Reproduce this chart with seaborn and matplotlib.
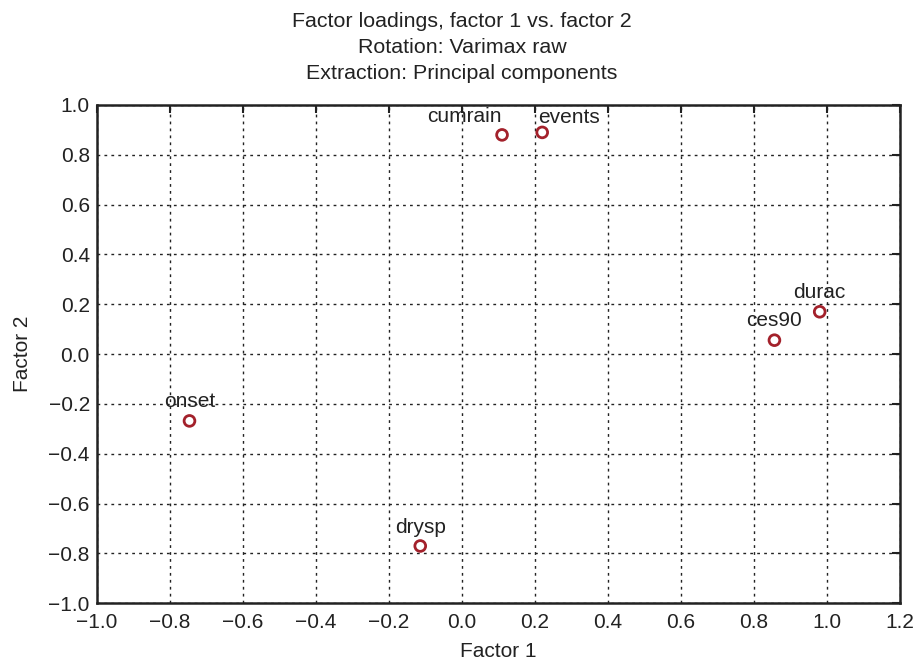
import matplotlib
matplotlib.use("Agg")
import matplotlib.pyplot as plt
import seaborn as sns
import pandas as pd

# Varimax-rotated principal component loadings
variables = ["cumrain", "events", "durac", "ces90", "onset", "drysp"]
factor1 = [0.11, 0.22, 0.98, 0.856, -0.746, -0.114]
factor2 = [0.88, 0.89, 0.17, 0.056, -0.268, -0.77]
# label offsets in points (dx, dy) relative to each point, to the text baseline
label_dx = [-27, 19.5, 0, 0, 0, 0]
label_dy = [9, 7, 10, 10, 10, 9]

xticks = [-1.0, -0.8, -0.6, -0.4, -0.2, 0.0, 0.2, 0.4, 0.6, 0.8, 1.0, 1.2]
yticks = [-1.0, -0.8, -0.6, -0.4, -0.2, 0.0, 0.2, 0.4, 0.6, 0.8, 1.0]

df = pd.DataFrame({"var": variables, "f1": factor1, "f2": factor2})

sns.set_theme(style="white")
plt.rcParams["font.family"] = ["Liberation Sans", "DejaVu Sans"]

fig = plt.figure(figsize=(9.17, 6.62), dpi=100)
ax = fig.add_axes([0.1055, 0.0887, 0.876, 0.7527])

sns.scatterplot(data=df, x="f1", y="f2", ax=ax, marker="o", s=60,
                facecolor="none", edgecolor="#a3212b", linewidth=2.0, zorder=3)

for name, x, y, dx, dy in zip(variables, factor1, factor2, label_dx, label_dy):
    ax.annotate(name, (x, y), xytext=(dx, dy), textcoords="offset points",
                ha="center", va="baseline", fontsize=15, color="#222222")

ax.set_xlim(-1.0, 1.2)
ax.set_ylim(-1.0, 1.0)
ax.set_xticks(xticks)
ax.set_yticks(yticks)
ax.set_xticklabels([f"{t:.1f}".replace("-", "\u2212") for t in xticks])
ax.set_yticklabels([f"{t:.1f}".replace("-", "\u2212") for t in yticks])
ax.grid(True, color="#222222", linestyle=(0, (2, 3)), linewidth=1.0)
ax.tick_params(direction="in", length=6, width=1.5, labelsize=15,
               top=True, right=True, colors="#222222", pad=5)
ax.tick_params(axis="x", pad=7)
for s in ax.spines.values():
    s.set_color("#222222")
    s.set_linewidth(1.8)

ax.set_xlabel("Factor 1", fontsize=15, color="#222222", labelpad=7)
ax.set_ylabel("Factor 2", fontsize=15, color="#222222", labelpad=12)

fig.text(0.504, 0.968, "Factor loadings, factor 1 vs. factor 2", ha="center",
         va="center", fontsize=15.4, color="#222222")
fig.text(0.504, 0.929, "Rotation: Varimax raw", ha="center", va="center",
         fontsize=15.4, color="#222222")
fig.text(0.504, 0.889, "Extraction: Principal components", ha="center",
         va="center", fontsize=15.4, color="#222222")

fig.savefig("out.png", dpi=100)
